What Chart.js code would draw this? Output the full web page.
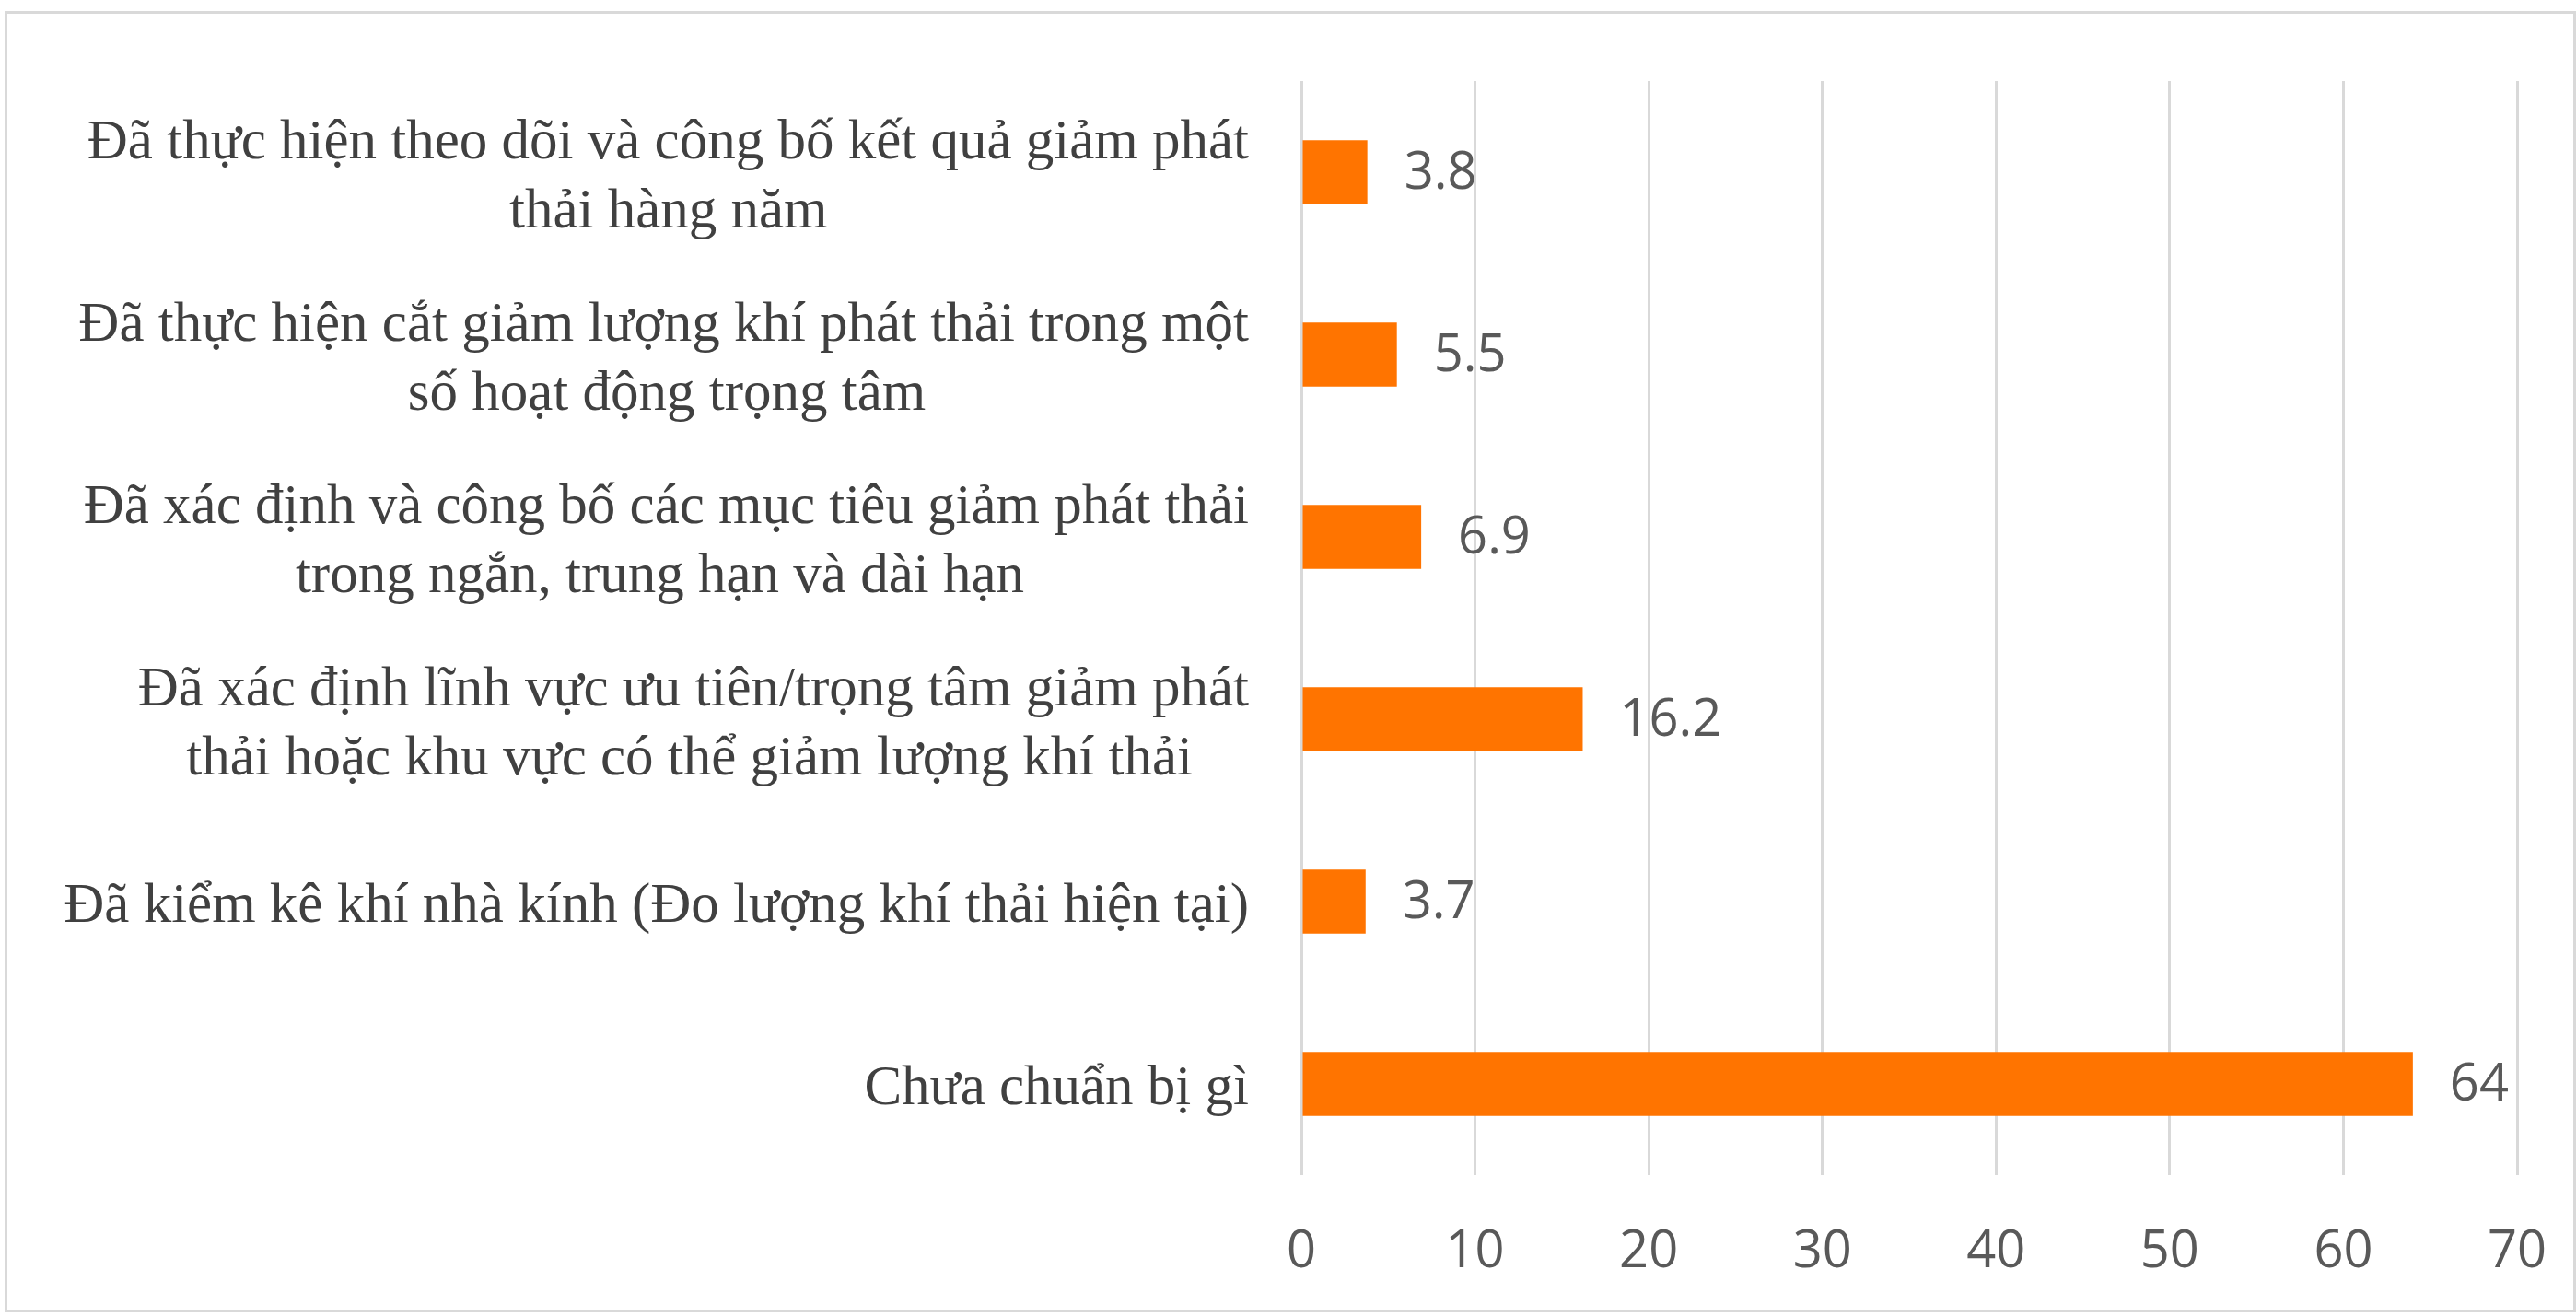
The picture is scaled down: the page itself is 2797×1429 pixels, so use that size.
<!DOCTYPE html>
<html>
<head>
<meta charset="utf-8">
<script src="https://cdn.jsdelivr.net/npm/chart.js@4/dist/chart.umd.min.js"></script>
<style>
  html, body { margin: 0; padding: 0; background: #ffffff; }
  #wrap { position: absolute; left: 0; top: 0; width: 2797px; height: 1429px; }
  #frame { position: absolute; left: 5px; top: 12px; width: 2786px; height: 1407px; border: 3px solid #d9d9d9; pointer-events: none; }
</style>
</head>
<body>
<div id="wrap"><canvas id="c" width="2797" height="1429"></canvas></div>
<div id="frame"></div>
<script>
const categories = [
  ["Đã thực hiện theo dõi và công bố kết quả giảm phát", "thải hàng năm"],
  ["Đã thực hiện cắt giảm lượng khí phát thải trong một", "số hoạt động trọng tâm"],
  ["Đã xác định và công bố các mục tiêu giảm phát thải", "trong ngắn, trung hạn và dài hạn"],
  ["Đã xác định lĩnh vực ưu tiên/trọng tâm giảm phát", "thải hoặc khu vực có thể giảm lượng khí thải"],
  ["Đã kiểm kê khí nhà kính (Đo lượng khí thải hiện tại)"],
  ["Chưa chuẩn bị gì"]
];
const values = [3.8, 5.5, 6.9, 16.2, 3.7, 64];
const xTickValues = [0, 10, 20, 30, 40, 50, 60, 70];

const labelFontSize = 61;
const labelFamily = '"Liberation Serif", "Times New Roman", serif';
const labelFont = labelFontSize + 'px ' + labelFamily;
const numFontSize = 56;
const numFamily = '"Open Sans", "Noto Sans", sans-serif';

// center the lines of each multi-line label relative to its widest line (right-aligned block)
const mctx = document.createElement('canvas').getContext('2d');
mctx.font = labelFont;
const nbsp = '\u00A0';
const spW = mctx.measureText(nbsp).width;
function centeredLines(lines) {
  const widths = lines.map(l => mctx.measureText(l).width);
  const maxW = Math.max(...widths);
  return lines.map((l, i) => {
    const pad = (maxW - widths[i]) / 2;
    const n = Math.round(pad / spW);
    return l + nbsp.repeat(n);
  });
}

const valueLabels = {
  id: 'valueLabels',
  afterDatasetsDraw(chart) {
    const ctx = chart.ctx;
    const meta = chart.getDatasetMeta(0);
    ctx.save();
    ctx.font = numFontSize + 'px ' + numFamily;
    ctx.fillStyle = '#595959';
    ctx.textAlign = 'left';
    ctx.textBaseline = 'middle';
    meta.data.forEach((bar, i) => {
      ctx.fillText(String(values[i]), bar.x + 40, bar.y + 2);
    });
    ctx.restore();
  }
};

new Chart(document.getElementById('c'), {
  type: 'bar',
  data: {
    labels: categories,
    datasets: [{
      data: values,
      backgroundColor: '#FF7400',
      borderWidth: 0,
      categoryPercentage: 1.0,
      barPercentage: 0.35
    }]
  },
  options: {
    indexAxis: 'y',
    responsive: false,
    animation: false,
    devicePixelRatio: 1,
    layout: { padding: { top: 88, right: 64, bottom: 0, left: 0 } },
    plugins: { legend: { display: false }, tooltip: { enabled: false } },
    scales: {
      x: {
        min: 0, max: 70,
        afterBuildTicks(scale) { scale.ticks = xTickValues.map(v => ({ value: v })); },
        afterFit(scale) { scale.height = 153; scale.paddingLeft = 0; scale.paddingRight = 0; },
        grid: { color: '#d9d9d9', lineWidth: 3, drawTicks: false },
        border: { display: false },
        ticks: {
          padding: 50,
          color: '#595959',
          font: { family: numFamily, size: numFontSize, lineHeight: 1.2 },
          autoSkip: false
        }
      },
      y: {
        afterFit(scale) { scale.width = 1413; scale.paddingTop = 0; scale.paddingBottom = 0; },
        grid: { display: false, drawTicks: false },
        border: { display: false },
        ticks: {
          padding: 57,
          labelOffset: 6,
          autoSkip: false,
          color: '#404040',
          font: { family: labelFamily, size: labelFontSize, lineHeight: 75 / labelFontSize },
          callback(value, index) { return centeredLines(categories[index]); }
        }
      }
    }
  },
  plugins: [valueLabels]
});
</script>
</body>
</html>
